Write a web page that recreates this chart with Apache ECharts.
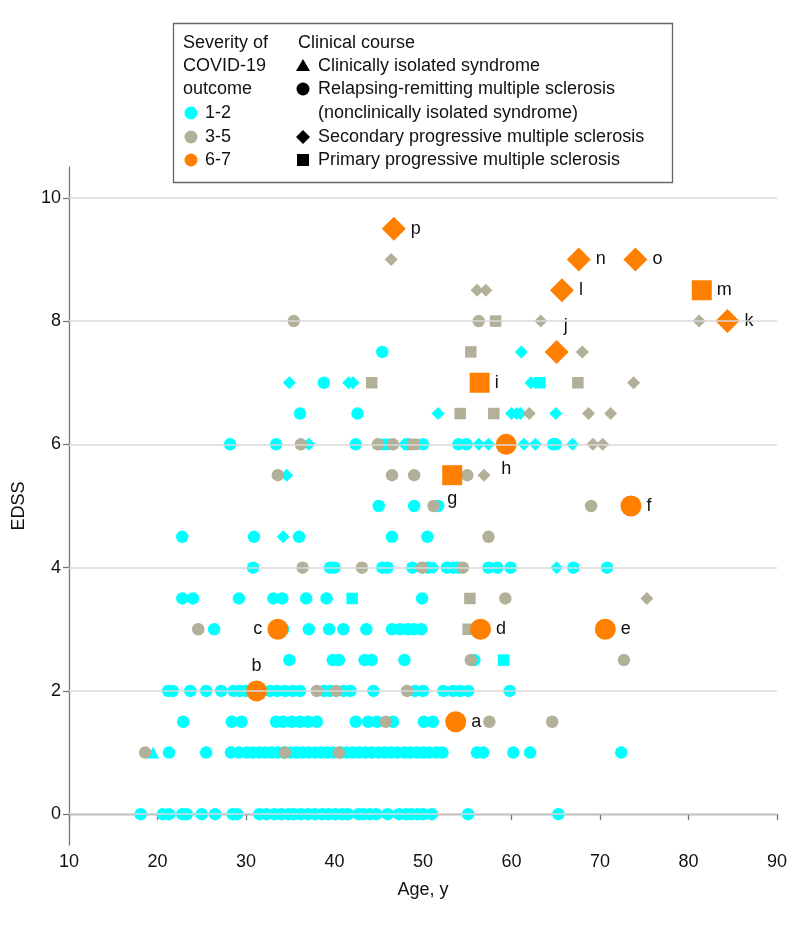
<!DOCTYPE html>
<html><head><meta charset="utf-8">
<script src="https://cdn.jsdelivr.net/npm/echarts@6/dist/echarts.min.js"></script>
<style>html,body{margin:0;padding:0;background:#fff}#c{width:798px;height:926px}</style>
</head><body><div id="c"></div>
<script>
const FONT = '"Liberation Sans", Arial, sans-serif';
const xTicks = [10, 20, 30, 40, 50, 60, 70, 80, 90];
const yTicks = [0, 2, 4, 6, 8, 10];

// rows: [EDSS, [ages...]]
const mildRR = [
  [0, [18.1, 20.6, 21.3, 22.8, 23.3, 25, 26.5, 28.5, 29, 31.5, 32.3, 33.2, 34, 34.8, 35.4, 36.2, 37, 37.8, 38.6, 39.3, 40.1, 40.9, 41.5, 42.7, 43.3, 44, 44.7, 46, 47.3, 48.1, 48.7, 49.4, 50, 51, 55.1, 65.3]],
  [1, [21.3, 25.5, 28.3, 29.2, 30.1, 30.8, 31.5, 32.2, 32.9, 33.6, 34.3, 35, 35.7, 36.4, 37.1, 37.8, 38.5, 39.2, 39.9, 40.7, 41.4, 42.1, 42.8, 43.5, 44.2, 45, 45.7, 46.4, 47.1, 47.9, 48.6, 49.3, 50, 50.7, 51.5, 52.2, 56.1, 56.8, 60.2, 62.1, 72.4]],
  [1.5, [22.9, 28.4, 29.5, 33.4, 34.2, 35.2, 36.1, 37, 38, 42.4, 43.8, 44.8, 46.6, 50.1, 51.1]],
  [2, [21.2, 21.7, 23.7, 25.5, 27.2, 28.6, 29.3, 30, 32.7, 33.5, 34.4, 35.3, 36.1, 38.8, 39.5, 41, 41.8, 44.4, 49.1, 50, 52.3, 53.4, 54.2, 55.1, 59.8]],
  [2.5, [34.9, 39.8, 40.5, 43.4, 44.2, 47.9, 55.8]],
  [3, [26.4, 34.2, 37.1, 39.4, 41, 43.6, 46.5, 47.4, 48.3, 49, 49.8]],
  [3.5, [22.8, 24, 29.2, 33.1, 34.1, 36.8, 39.1, 49.9]],
  [4, [30.8, 39.5, 40, 45.4, 46, 48.8, 50.6, 52.7, 53.4, 54, 57.4, 58.4, 59.9, 67, 70.8]],
  [4.5, [22.8, 30.9, 36, 46.5, 50.5]],
  [5, [45, 49, 51.7]],
  [6, [28.2, 33.4, 42.4, 48.3, 50, 54, 54.9, 64.7, 65]],
  [6.5, [36.1, 42.6]],
  [7, [38.8]],
  [7.5, [45.4]]
];
const mildCIS = [[1, [19.5]]];
const mildSP = [
  [4, [51.2, 65.1]],
  [4.5, [34.2]],
  [5.5, [34.6]],
  [6, [37.1, 47.9, 56.3, 57.4, 61.4, 62.7, 66.9]],
  [6.5, [51.7, 60, 60.6, 61, 65]],
  [7, [34.9, 41.6, 42.1, 62.2]],
  [7.5, [61.1]]
];
const mildPP = [[2.5, [59.1]], [3.5, [42]], [6, [45.7]], [7, [63.2]]];

const modRR = [
  [1, [18.6, 34.4, 40.5]],
  [1.5, [45.8, 57.5, 64.6]],
  [2, [38, 40.2, 48.2]],
  [2.5, [55.4, 72.7]],
  [3, [24.6]],
  [3.5, [59.3]],
  [4, [36.4, 43.1, 49.9, 54.5]],
  [4.5, [57.4]],
  [5, [51.2, 69]],
  [5.5, [33.6, 46.5, 49, 55]],
  [6, [36.2, 44.9, 46.6]],
  [8, [35.4, 56.3]]
];
const modSP = [
  [3.5, [75.3]],
  [5.5, [56.9]],
  [6, [69.2, 70.3]],
  [6.5, [62, 68.7, 71.2]],
  [7, [73.8]],
  [7.5, [68]],
  [8, [63.3, 81.2]],
  [8.5, [56.1, 57.1]],
  [9, [46.4]]
];
const modPP = [
  [3, [55.1]], [3.5, [55.3]], [6, [48.9]], [6.5, [54.2, 58]],
  [7, [44.2, 67.5]], [7.5, [55.4]], [8, [58.2]]
];

// severe cases: [age, EDSS, letter]
const sevRR = [[53.7, 1.5, 'a'], [31.2, 2, 'b'], [33.6, 3, 'c'], [56.5, 3, 'd'], [70.6, 3, 'e'], [73.5, 5, 'f'], [59.4, 6, 'h']];
const sevPP = [[53.3, 5.5, 'g'], [56.4, 7, 'i'], [81.5, 8.5, 'm']];
const sevSP = [[65.1, 7.5, 'j'], [84.4, 8, 'k'], [65.7, 8.5, 'l'], [67.6, 9, 'n'], [74, 9, 'o'], [46.7, 9.5, 'p']];

// label placement (style, kept apart from data)
const labelPlace = {
  a: {position: 'right'}, b: {position: 'top'}, c: {position: 'left'}, d: {position: 'right'},
  e: {position: 'right'}, f: {position: 'right'}, g: {position: 'bottom'}, h: {position: 'bottom'},
  i: {position: 'right'}, j: {position: 'top', offset: [9, 0]}, k: {position: 'right'},
  l: {position: 'right'}, m: {position: 'right'}, n: {position: 'right'}, o: {position: 'right'},
  p: {position: 'right'}
};

const CYAN = '#00ffff', GRAY = '#b2b099', ORANGE = '#ff7f00';

function expand(rows) {
  const out = [];
  rows.forEach(([y, ages]) => ages.forEach(a => out.push([a, y])));
  return out;
}
function sev(arr) {
  return arr.map(([x, y, l]) => ({value: [x, y], name: l, label: Object.assign({show: true}, labelPlace[l])}));
}
const labelStyle = {formatter: p => p.name, fontFamily: FONT, fontSize: 18, color: '#111', distance: 5};

const chart = echarts.init(document.getElementById('c'), null, {renderer: 'canvas'});

function scat(name, data, symbol, size, color, z, extra) {
  return Object.assign({type: 'scatter', name, data, symbol, symbolSize: size,
    itemStyle: {color, opacity: 1}, z, silent: true, animation: false,
    emphasis: {disabled: true}}, extra || {});
}

const legendX = 173.5, legendY = 23.5;
const T = (text, x, y) => ({type: 'text', x, y, z: 101, style: {text, font: '18px ' + FONT, fill: '#111', verticalAlign: 'middle'}});
const graphics = [
  {type: 'rect', z: 100, shape: {x: legendX, y: legendY, width: 499, height: 159}, style: {fill: '#fff', stroke: '#666', lineWidth: 1.3}},
  T('Severity of', 183, 43), T('COVID-19', 183, 66), T('outcome', 183, 89),
  {type: 'circle', z: 101, shape: {cx: 191, cy: 113, r: 6.5}, style: {fill: CYAN}}, T('1-2', 205, 113),
  {type: 'circle', z: 101, shape: {cx: 191, cy: 137, r: 6.5}, style: {fill: GRAY}}, T('3-5', 205, 137),
  {type: 'circle', z: 101, shape: {cx: 191, cy: 160, r: 6.5}, style: {fill: ORANGE}}, T('6-7', 205, 160),
  T('Clinical course', 298, 43),
  {type: 'polygon', z: 101, shape: {points: [[303, 59], [310, 71], [296, 71]]}, style: {fill: '#000'}}, T('Clinically isolated syndrome', 318, 66),
  {type: 'circle', z: 101, shape: {cx: 303, cy: 89, r: 6.5}, style: {fill: '#000'}}, T('Relapsing-remitting multiple sclerosis', 318, 89),
  T('(nonclinically isolated syndrome)', 318, 113),
  {type: 'polygon', z: 101, shape: {points: [[303, 130], [310, 137], [303, 144], [296, 137]]}, style: {fill: '#000'}}, T('Secondary progressive multiple sclerosis', 318, 137),
  {type: 'rect', z: 101, shape: {x: 297, y: 154, width: 12, height: 12}, style: {fill: '#000'}}, T('Primary progressive multiple sclerosis', 318, 160)
];

chart.setOption({
  animation: false,
  backgroundColor: '#fff',
  grid: {left: 69, right: 21, top: 167, bottom: 81, containLabel: false},
  xAxis: {
    type: 'value', min: 10, max: 90, interval: 10,
    name: 'Age, y', nameLocation: 'middle', nameGap: 36,
    nameTextStyle: {fontFamily: FONT, fontSize: 18, color: '#111'},
    axisLine: {show: true, lineStyle: {color: '#777', width: 1.3}},
    axisTick: {show: true, length: 6, lineStyle: {color: '#777', width: 1.3}},
    axisLabel: {fontFamily: FONT, fontSize: 18, color: '#111', margin: 8, customValues: xTicks},
    splitLine: {show: false}
  },
  yAxis: {
    type: 'value', min: -0.5, max: 10.5,
    name: 'EDSS', nameLocation: 'middle', nameGap: 41,
    nameTextStyle: {fontFamily: FONT, fontSize: 18, color: '#111'},
    axisLine: {show: true, lineStyle: {color: '#777', width: 1.3}},
    axisTick: {show: true, length: 6, lineStyle: {color: '#777', width: 1.3}, customValues: yTicks},
    axisLabel: {fontFamily: FONT, fontSize: 18, color: '#111', margin: 8, customValues: yTicks},
    splitLine: {show: false}
  },
  graphic: graphics,
  series: [
    {type: 'scatter', data: [], z: 1, silent: true,
      markLine: {silent: true, symbol: 'none', animation: false, label: {show: false},
        lineStyle: {color: '#d9d9d9', width: 1.6, type: 'solid'},
        data: yTicks.map(v => ({yAxis: v}))}},
    scat('mildRR', expand(mildRR), 'circle', 12.5, CYAN, 2),
    scat('mildCIS', expand(mildCIS), 'triangle', 12, CYAN, 2),
    scat('mildSP', expand(mildSP), 'diamond', 13, CYAN, 2),
    scat('mildPP', expand(mildPP), 'rect', 11.5, CYAN, 2),
    scat('modRR', expand(modRR), 'circle', 12.5, GRAY, 3),
    scat('modSP', expand(modSP), 'diamond', 13, GRAY, 3),
    scat('modPP', expand(modPP), 'rect', 11.5, GRAY, 3),
    scat('sevRR', sev(sevRR), 'circle', 21, ORANGE, 4, {label: labelStyle}),
    scat('sevPP', sev(sevPP), 'rect', 20, ORANGE, 4, {label: labelStyle}),
    scat('sevSP', sev(sevSP), 'diamond', 24, ORANGE, 4, {label: labelStyle})
  ]
});
</script></body></html>
